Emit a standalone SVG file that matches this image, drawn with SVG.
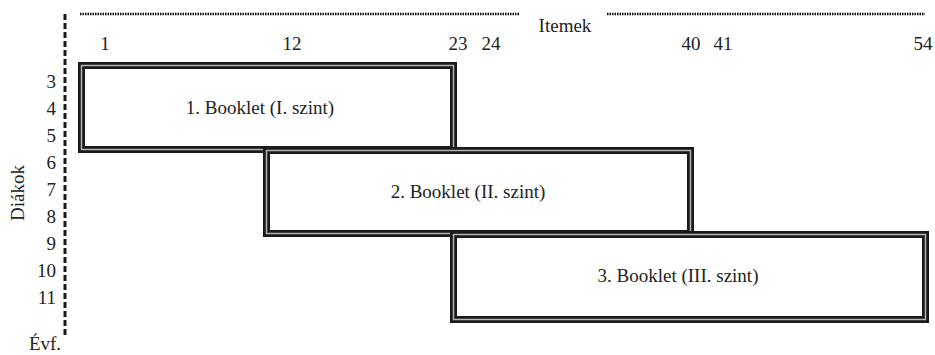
<svg xmlns="http://www.w3.org/2000/svg" width="935" height="355" viewBox="0 0 935 355">
<style>
.t{fill:#222;font-size:19px;font-family:'Liberation Serif','Times New Roman',serif}
.box-o{fill:none;stroke:#1a1a1a;stroke-width:7}
.box-i{fill:none;stroke:#b4b4b4;stroke-width:1.5}
.dots{stroke:#111;stroke-width:2.5;stroke-dasharray:1.5 1;fill:none}
.dash{stroke:#1a1a1a;stroke-width:3;stroke-dasharray:6 3;fill:none}
</style>
<rect width="935" height="355" fill="#fff"/>
<g id="axes">
<line class="dash" x1="65" y1="14" x2="65" y2="337"/>
<line class="dots" x1="80" y1="14" x2="520" y2="14"/>
<line class="dots" x1="607" y1="14" x2="925" y2="14"/>
<text class="t" x="565" y="32" text-anchor="middle">Itemek</text>
<text class="t" x="24" y="193" text-anchor="middle" transform="rotate(-90 24 193)">Diákok</text>
<text class="t" x="45" y="350" text-anchor="middle">Évf.</text>
</g>
<g id="cols" text-anchor="middle">
<text class="t" x="105" y="50">1</text>
<text class="t" x="292" y="50">12</text>
<text class="t" x="458" y="50">23</text>
<text class="t" x="491" y="50">24</text>
<text class="t" x="691" y="50">40</text>
<text class="t" x="723" y="50">41</text>
<text class="t" x="923" y="50">54</text>
</g>
<g id="rows" text-anchor="end">
<text class="t" x="56" y="88">3</text>
<text class="t" x="56" y="115">4</text>
<text class="t" x="56" y="142">5</text>
<text class="t" x="56" y="169">6</text>
<text class="t" x="56" y="196">7</text>
<text class="t" x="56" y="223">8</text>
<text class="t" x="56" y="250">9</text>
<text class="t" x="56" y="277">10</text>
<text class="t" x="56" y="304">11</text>
</g>
<g id="booklet1">
<rect class="box-o" x="81.5" y="65.5" width="372" height="84"/>
<rect class="box-i" x="81.5" y="65.5" width="372" height="84"/>
<text class="t" x="260" y="114" text-anchor="middle">1. Booklet (I. szint)</text>
</g>
<g id="booklet2">
<rect class="box-o" x="266.5" y="150.5" width="424" height="83"/>
<rect class="box-i" x="266.5" y="150.5" width="424" height="83"/>
<text class="t" x="468" y="198" text-anchor="middle">2. Booklet (II. szint)</text>
</g>
<g id="booklet3">
<rect class="box-o" x="453.5" y="234.5" width="472" height="85"/>
<rect class="box-i" x="453.5" y="234.5" width="472" height="85"/>
<text class="t" x="678" y="282" text-anchor="middle">3. Booklet (III. szint)</text>
</g>
<g id="connectors"></g>
</svg>
